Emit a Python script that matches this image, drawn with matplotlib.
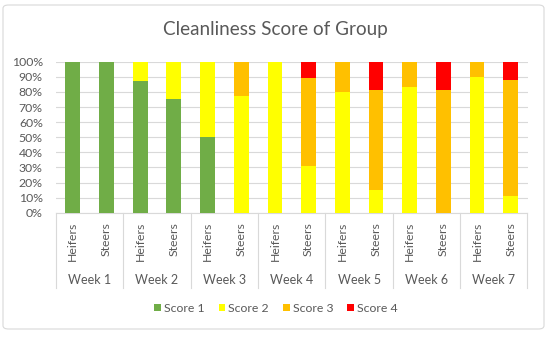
import numpy as np
import matplotlib.pyplot as plt
from matplotlib.patches import FancyBboxPatch
from matplotlib.lines import Line2D
import matplotlib.transforms as mtransforms

plt.rcParams['font.family'] = ['Lato', 'DejaVu Sans']

# data (percent of animals in each score)
weeks = ['Week 1', 'Week 2', 'Week 3', 'Week 4', 'Week 5', 'Week 6', 'Week 7']
groups = ['Heifers', 'Steers']
score1 = [100, 100, 87, 75, 50, 0, 0, 0, 0, 0, 0, 0, 0, 0]
score2 = [0, 0, 13, 25, 50, 77, 100, 31, 80, 15, 83, 0, 90, 11]
score3 = [0, 0, 0, 0, 0, 23, 0, 58, 20, 66, 17, 81, 10, 77]
score4 = [0, 0, 0, 0, 0, 0, 0, 11, 0, 19, 0, 19, 0, 12]
series = [('Score 1', score1, '#70AD47'),
          ('Score 2', score2, '#FFFF00'),
          ('Score 3', score3, '#FFC000'),
          ('Score 4', score4, '#FF0000')]

grey = '#595959'
fs = 8.8
fig = plt.figure(figsize=(5.5, 3.37), dpi=100)
fig.patches.append(FancyBboxPatch((3 / 550, 8 / 337), 541 / 550, 324 / 337,
                                  boxstyle='round,pad=0,rounding_size=0.01',
                                  transform=fig.transFigure, fill=False,
                                  edgecolor='#D9D9D9', linewidth=0.8))

ax = fig.add_axes([56 / 550, 1 - 212.7 / 337, 471.5 / 550, 151 / 337])
x = np.arange(len(score1))
bottom = np.zeros(len(score1))
for name, vals, col in series:
    ax.bar(x, vals, 0.44, bottom=bottom, color=col, label=name, zorder=3)
    bottom += np.array(vals)

ax.set_xlim(-0.5, len(score1) - 0.5)
ax.set_ylim(0, 100)
ax.set_yticks(range(0, 101, 10))
ax.set_yticklabels([f'{v}%' for v in range(0, 101, 10)])
ax.yaxis.grid(True, color='#D9D9D9', linewidth=0.8, zorder=0)
ax.set_xticks(x)
ax.set_xticklabels(groups * len(weeks), rotation=90)
ax.tick_params(length=0, colors=grey, labelsize=fs)
ax.tick_params(axis='y', pad=9.5)
ax.tick_params(axis='x', pad=6.5)
for s in ['top', 'right', 'left']:
    ax.spines[s].set_visible(False)
ax.spines['bottom'].set_color('#D9D9D9')

# week labels and separators
trans = mtransforms.blended_transform_factory(ax.transData, ax.transAxes)
for i, w in enumerate(weeks):
    ax.text(2 * i + 0.5, -67 / 151, w, transform=trans, ha='center', va='center',
            fontsize=fs + 0.2, color=grey)
for b in np.arange(0, len(weeks) + 1) * 2 - 0.5:
    ax.add_line(Line2D([b, b], [0, -75 / 151], transform=trans, color='#D9D9D9',
                       linewidth=0.8, clip_on=False))

fig.text(0.5, 1 - 30 / 337, 'Cleanliness Score of Group', ha='center', va='center',
         fontsize=13.6, color=grey)
fig.legend(loc='center', bbox_to_anchor=(276 / 550, 1 - 308 / 337), ncol=4, frameon=False,
           fontsize=fs, labelcolor=grey, handlelength=0.53, handleheight=0.53,
           handletextpad=0.27, columnspacing=1.15)

fig.savefig('out.png', dpi=100)
